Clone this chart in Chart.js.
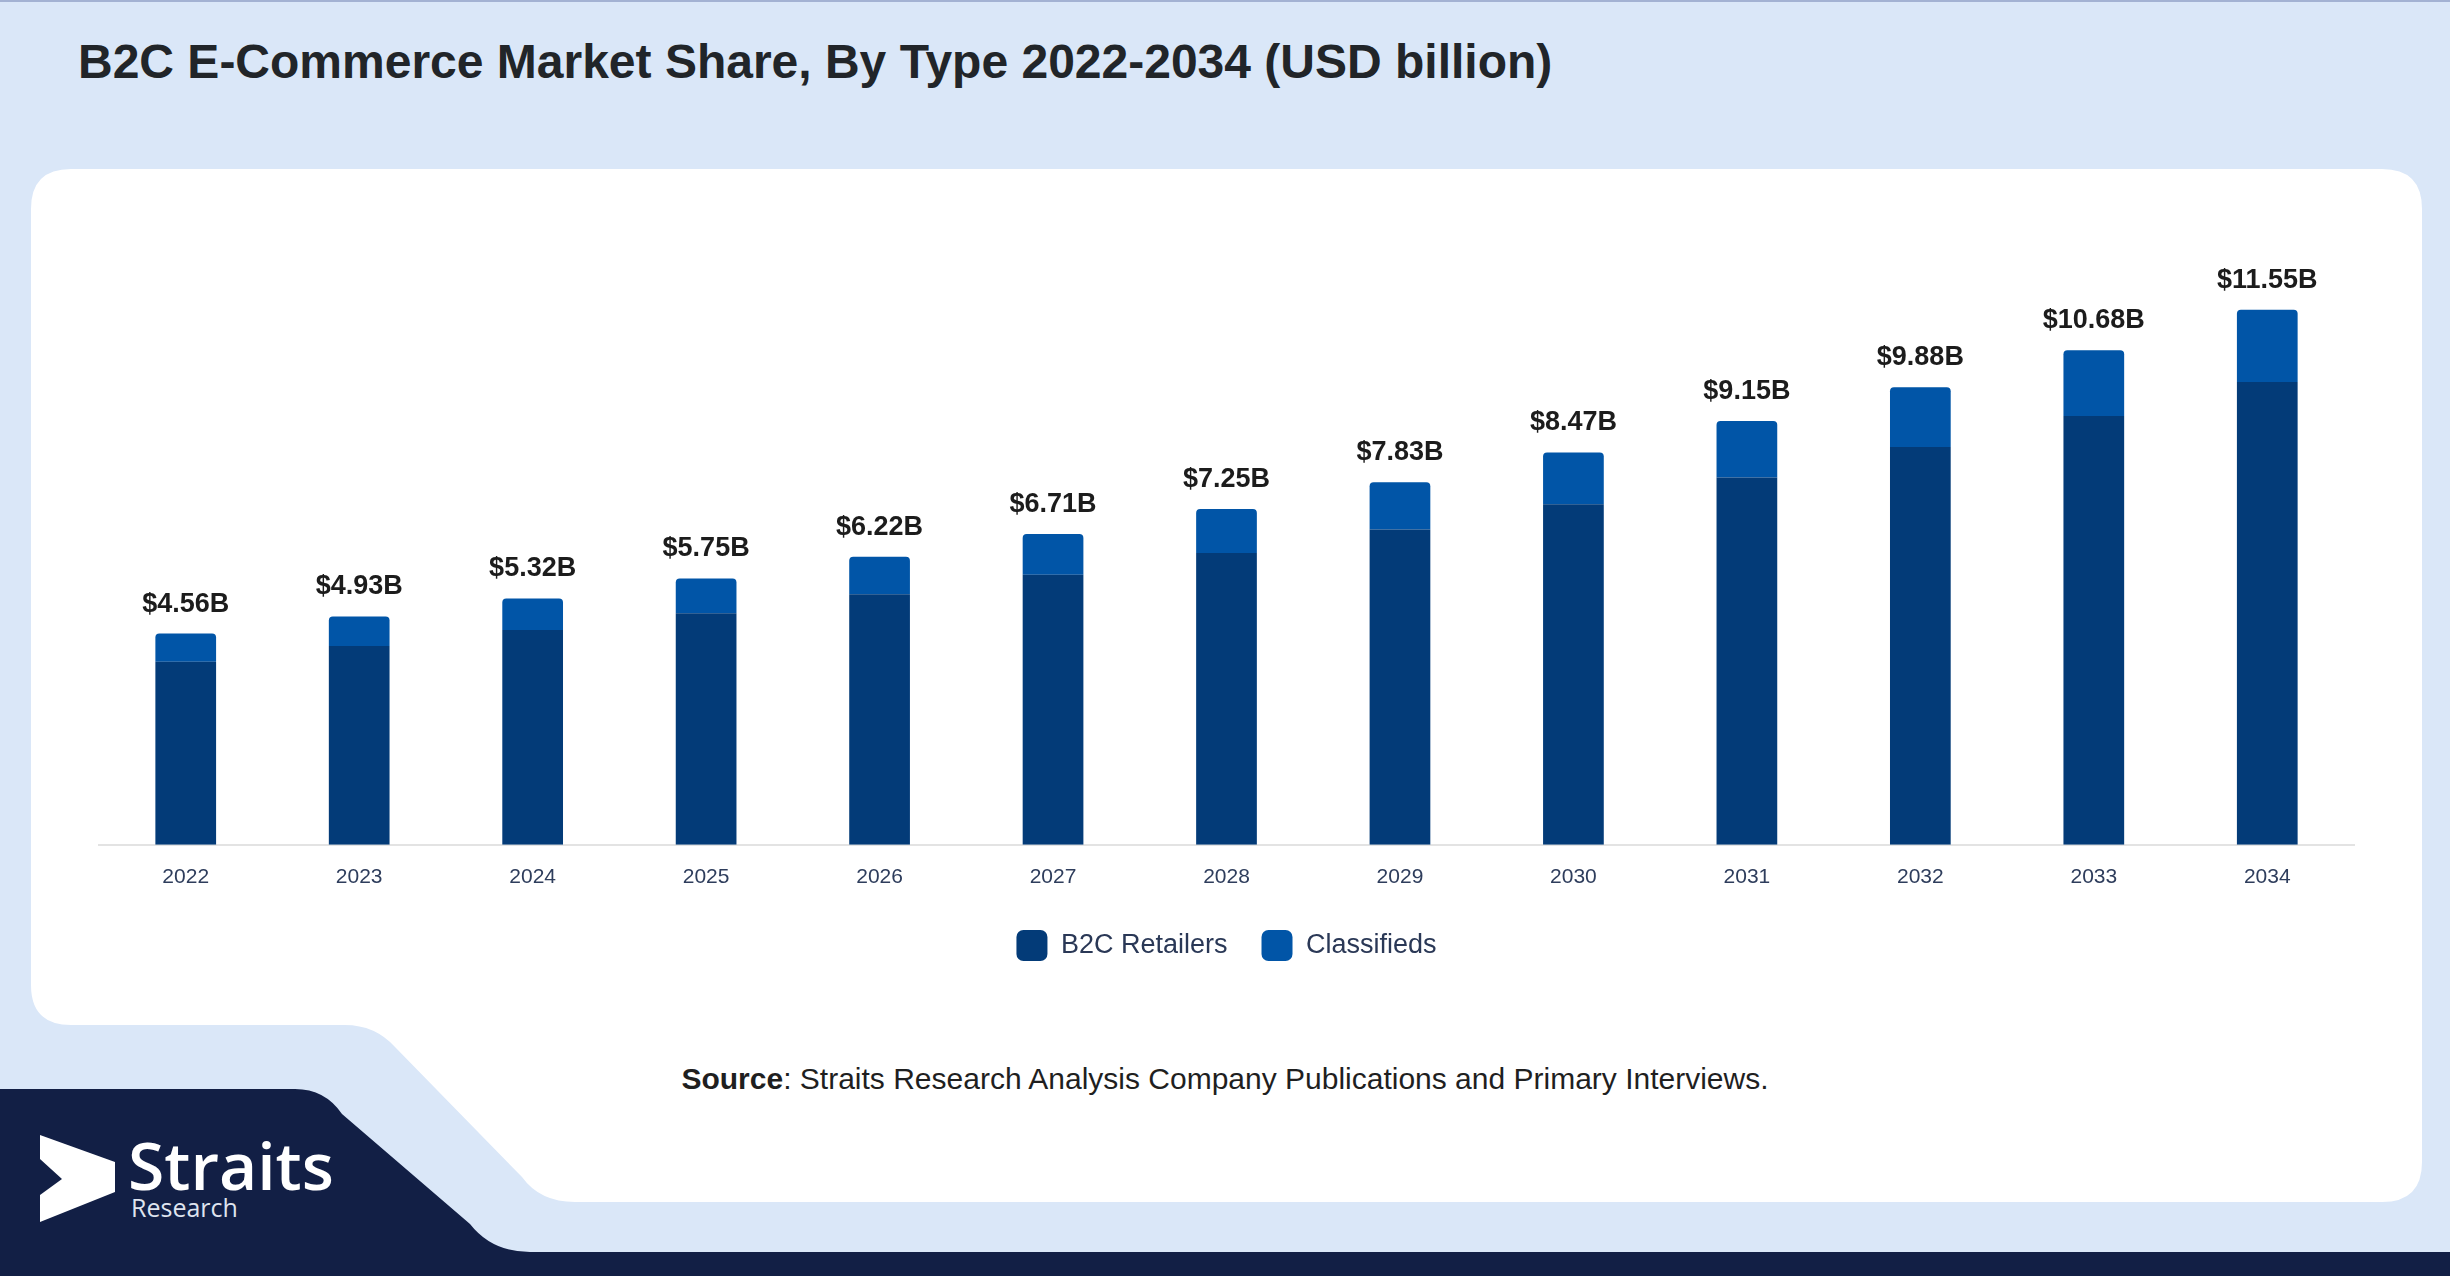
<!DOCTYPE html>
<html>
<head>
<meta charset="utf-8">
<script src="https://cdn.jsdelivr.net/npm/chart.js@4.4.1/dist/chart.umd.min.js"></script>
<style>
  html, body { margin: 0; padding: 0; }
  body {
    width: 2450px; height: 1276px; position: relative; overflow: hidden;
    background: #dae7f8; font-family: "Liberation Sans", Arial, sans-serif;
    border-top: 2px solid #a3b2d3; box-sizing: border-box;
  }
  #bg { position: absolute; left: 0; top: 0; }
  #title {
    position: absolute; left: 78px; top: 36px; font-size: 48px; line-height: 1;
    font-weight: bold; color: #212529; white-space: nowrap;
  }
  #source {
    position: absolute; left: 0; width: 2450px; top: 1062px; text-align: center;
    font-size: 30px; line-height: 1; color: #1f1f1f;
  }
  #wrap { position: absolute; left: 33px; top: 165px; width: 2391px; height: 804px; }
</style>
</head>
<body>
<svg id="bg" width="2450" height="1276">
  <path d="M 71 167 H 2382 Q 2422 167 2422 207 V 1160 Q 2422 1200 2382 1200 H 575 Q 540 1200 522 1175 L 395 1045 Q 375 1023 345 1023 H 71 Q 31 1023 31 983 V 207 Q 31 167 71 167 Z" fill="#ffffff"/>
  <path d="M 0 1087 H 295 Q 325 1087 342 1112 L 470 1222 Q 492 1250 530 1250 H 2450 V 1276 H 0 Z" fill="#121f45"/>
  <polygon points="40,1133 115,1160 115,1190 40,1220 40,1193 62,1177 40,1157" fill="#ffffff"/>
  <text x="128" y="1188" fill="#ffffff" font-family="Open Sans" font-weight="600" font-size="66">Straits</text>
  <text x="131" y="1215" fill="#dfe4ef" font-family="Open Sans" font-size="25">Research</text>
</svg>
<div id="title">B2C E-Commerce Market Share, By Type 2022-2034 (USD billion)</div>
<div id="wrap"><canvas id="chart"></canvas></div>
<div id="source"><b>Source</b>: Straits Research Analysis Company Publications and Primary Interviews.</div>
<script>
// years on the x axis
const years = ['2022', '2023', '2024', '2025', '2026', '2027', '2028', '2029', '2030', '2031', '2032', '2033', '2034'];
// stacked segments
const retailers = [3.95, 4.29, 4.64, 5.00, 5.41, 5.83, 6.30, 6.81, 7.35, 7.93, 8.59, 9.26, 9.99];
const classifieds = [0.61, 0.64, 0.68, 0.75, 0.81, 0.88, 0.95, 1.02, 1.12, 1.22, 1.29, 1.42, 1.56];
// totals printed above each bar
const totals = [4.56, 4.93, 5.32, 5.75, 6.22, 6.71, 7.25, 7.83, 8.47, 9.15, 9.88, 10.68, 11.55];

// draws the "$x.xxB" label over each stack
const totalLabels = {
  id: 'totalLabels',
  afterDatasetsDraw(chart) {
    const ctx = chart.ctx;
    const top = chart.getDatasetMeta(chart.data.datasets.length - 1);
    ctx.save();
    ctx.font = 'bold 27px "Liberation Sans", Arial, sans-serif';
    ctx.fillStyle = '#1c1c1c';
    ctx.textAlign = 'center';
    ctx.textBaseline = 'alphabetic';
    top.data.forEach((bar, i) => {
      ctx.fillText('$' + totals[i].toFixed(2) + 'B', bar.x, bar.y - 22);
    });
    ctx.restore();
  }
};

new Chart(document.getElementById('chart'), {
  type: 'bar',
  data: {
    labels: years,
    datasets: [
      {
        label: 'B2C Retailers',
        data: retailers,
        backgroundColor: '#033b78',
        barPercentage: 0.35,
        categoryPercentage: 1
      },
      {
        label: 'Classifieds',
        data: classifieds,
        backgroundColor: '#0155a7',
        borderRadius: { topLeft: 4, topRight: 4 },
        borderSkipped: 'bottom',
        barPercentage: 0.35,
        categoryPercentage: 1
      }
    ]
  },
  options: {
    responsive: true,
    maintainAspectRatio: false,
    animation: false,
    layout: { padding: { left: 66, right: 70, top: 34, bottom: 0 } },
    scales: {
      x: {
        stacked: true,
        grid: { display: false, drawTicks: false },
        border: { display: true, color: '#e3e3e3', width: 2 },
        ticks: {
          color: '#2e3d5c',
          padding: 20,
          font: { family: '"Liberation Sans", Arial, sans-serif', size: 21 }
        },
        // pull the legend a little closer to the axis
        afterFit(scale) { scale.height -= 14; }
      },
      y: {
        stacked: true,
        display: false,
        min: 0,
        max: 13.9
      }
    },
    plugins: {
      legend: {
        position: 'bottom',
        labels: {
          color: '#2a3856',
          boxWidth: 31,
          boxHeight: 31,
          useBorderRadius: true,
          borderRadius: 7,
          padding: 34,
          font: { family: '"Liberation Sans", Arial, sans-serif', size: 27 }
        }
      },
      tooltip: { enabled: false }
    }
  },
  plugins: [totalLabels]
});
</script>
</body>
</html>
